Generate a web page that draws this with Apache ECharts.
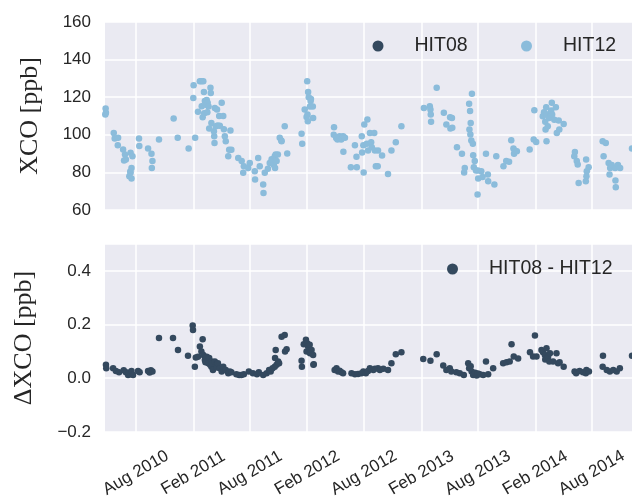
<!DOCTYPE html>
<html>
<head>
<meta charset="utf-8">
<script src="https://cdn.jsdelivr.net/npm/echarts@6/dist/echarts.min.js"></script>
<style>
  html, body { margin: 0; padding: 0; background: #fff; }
  #chart { width: 632px; height: 500px; }
</style>
</head>
<body>
<div id="chart"></div>
<script>
// XCO of HIT12 (HIT08 lies under it, differences are far below one pixel)
var hit12 = [
  ['2010-04-23',116],['2010-04-25',110.8],['2010-04-26',114],['2010-04-27',111.7],
  ['2010-05-22',101],['2010-05-25',98],['2010-06-04',94.5],['2010-06-05',98.4],['2010-06-21',92.2],
  ['2010-06-24',86.3],['2010-06-27',89.5],['2010-06-30',86.8],['2010-07-11',78],['2010-07-14',80.5],
  ['2010-07-15',90.4],['2010-07-15',79.8],['2010-07-18',82.4],['2010-07-18',76.7],['2010-07-21',88.6],
  ['2010-08-11',98],['2010-08-12',94],['2010-09-09',92.7],['2010-09-20',89.9],['2010-09-21',82.4],
  ['2010-09-23',86],['2010-10-14',97.5],['2010-11-30',108.7],['2010-12-13',98.4],
  ['2011-01-17',92.7],['2011-02-01',119.6],['2011-02-02',126.4],['2011-02-07',98.4],['2011-02-16',112.2],
  ['2011-02-22',128.5],['2011-02-27',128.5],['2011-02-28',115.2],['2011-03-03',109.4],['2011-03-05',128.5],
  ['2011-03-07',122.8],['2011-03-08',111.5],['2011-03-10',118],['2011-03-13',116],['2011-03-16',118.5],
  ['2011-03-18',112],['2011-03-19',117],['2011-03-22',115],['2011-03-24',103.3],['2011-03-28',125],
  ['2011-03-29',122.3],['2011-03-31',106.3],['2011-04-08',101.9],['2011-04-09',99.2],['2011-04-10',95.7],
  ['2011-04-11',114.3],['2011-04-14',104.5],['2011-04-18',113.4],['2011-04-20',105],['2011-04-25',110],
  ['2011-04-27',104.8],['2011-05-03',117],['2011-05-08',110],['2011-05-10',103],['2011-05-13',99.2],
  ['2011-05-16',96.6],['2011-05-24',88.6],['2011-05-27',92],['2011-05-31',102.3],['2011-06-03',92],
  ['2011-06-25',87.7],['2011-07-06',86],['2011-07-11',79.8],['2011-07-13',83.3],['2011-07-27',82.4],
  ['2011-08-01',85],['2011-08-17',80.6],['2011-08-18',76.2],['2011-08-28',87.7],['2011-09-02',83.3],
  ['2011-09-13',73.5],['2011-09-14',69],['2011-09-18',79.8],['2011-09-28',82],['2011-10-04',85],
  ['2011-10-10',87],['2011-10-17',84],['2011-10-20',88.6],['2011-10-21',82.4],['2011-10-23',89.5],
  ['2011-10-26',86],['2011-10-30',89.5],['2011-11-05',98.4],['2011-11-10',97],['2011-11-11',96.6],
  ['2011-11-21',104.6],['2011-11-29',90],
  ['2012-01-14',100.6],['2012-01-16',95.2],['2012-01-24',113.4],['2012-01-30',109.5],['2012-02-01',128.5],
  ['2012-02-02',110.8],['2012-02-03',107.2],['2012-02-04',122.8],['2012-02-06',120],['2012-02-10',115],
  ['2012-02-12',118],['2012-02-13',119],['2012-02-19',115],['2012-02-20',109],
  ['2012-04-26',100],['2012-04-27',104],['2012-05-04',98.3],['2012-05-08',97.5],['2012-05-15',99.2],
  ['2012-05-20',97.5],['2012-05-26',99.2],['2012-05-27',91],['2012-06-01',98.4],['2012-06-20',82.8],
  ['2012-07-03',94.5],['2012-07-08',88.3],['2012-07-09',82.8],['2012-07-25',99.2],['2012-07-26',90.6],
  ['2012-07-30',94.5],['2012-07-31',80],['2012-08-02',105.5],['2012-08-10',95.2],['2012-08-12',108.1],
  ['2012-08-14',91.6],['2012-08-20',101],['2012-08-24',96],['2012-08-26',93.4],['2012-09-03',101],
  ['2012-09-05',91.6],['2012-09-08',83.3],['2012-09-14',83.3],['2012-09-15',91.6],['2012-09-28',89],
  ['2012-10-17',79.2],['2012-10-28',91.6],['2012-11-11',96],['2012-11-29',104.6],
  ['2013-02-09',114.3],['2013-02-28',115.2],['2013-03-02',113.4],['2013-03-03',110.8],['2013-03-04',106.9],
  ['2013-03-22',125],['2013-04-14',111.7],['2013-04-22',105.5],['2013-05-04',109.4],['2013-05-05',103.3],
  ['2013-05-10',109],['2013-05-11',103.7],['2013-05-26',93.4],['2013-06-11',89.9],['2013-06-18',80],
  ['2013-06-20',82.4],['2013-07-04',116.5],['2013-07-05',102.8],['2013-07-07',112.6],['2013-07-08',100.1],
  ['2013-07-09',106.3],['2013-07-11',97],['2013-07-13',121.8],['2013-07-16',95.2],['2013-07-17',89.1],
  ['2013-07-19',82.8],['2013-07-22',86],['2013-07-26',81],['2013-07-31',68.2],['2013-08-01',81],
  ['2013-08-02',76.7],['2013-08-12',80.6],['2013-08-16',77.5],['2013-08-27',89.9],['2013-09-02',78.9],
  ['2013-09-03',75.3],['2013-09-23',73.5],['2013-09-29',88.6],['2013-10-22',83.3],['2013-10-31',86],
  ['2013-11-09',85.6],['2013-11-16',97.1],['2013-11-23',92.7],['2013-11-25',89.9],['2013-11-27',91.6],
  ['2013-12-04',91.3],
  ['2014-01-14',92.2],['2014-01-27',97.5],['2014-01-29',113.1],['2014-02-04',96.2],['2014-02-25',109.9],
  ['2014-03-01',112],['2014-03-05',106.9],['2014-03-06',102.8],['2014-03-08',114.7],['2014-03-09',96.6],
  ['2014-03-10',110.8],['2014-03-13',104.6],['2014-03-17',109],['2014-03-21',111.5],['2014-03-24',112.9],
  ['2014-03-26',117],['2014-03-27',110.8],['2014-04-03',108],['2014-04-08',114.7],['2014-04-11',101],
  ['2014-04-17',107.6],['2014-04-19',102.8],['2014-05-03',105.8],['2014-06-06',88.6],['2014-06-08',90.9],
  ['2014-06-14',86],['2014-06-17',84.2],['2014-06-20',74.4],['2014-07-13',75.3],['2014-07-14',86.8],
  ['2014-07-15',78],['2014-07-16',80.6],['2014-07-22',82.8],['2014-09-05',96.6],['2014-09-08',88.6],
  ['2014-09-15',95.7],['2014-09-24',85],['2014-09-27',78.9],['2014-09-29',82.4],['2014-10-04',84],
  ['2014-10-15',82.4],['2014-10-16',75.7],['2014-10-17',72.1],['2014-10-24',84],['2014-10-31',82.4],
  ['2014-12-08',92.7]
];

// HIT08 - HIT12
var diff = [
  ['2010-04-27',0.05],['2010-04-28',0.037],['2010-05-20',0.037],['2010-05-29',0.027],['2010-06-08',0.022],
  ['2010-06-23',0.03],['2010-06-30',0.022],['2010-07-07',0.012],['2010-07-09',0.02],['2010-07-15',0.015],
  ['2010-07-18',0.027],['2010-07-23',0.012],['2010-08-08',0.027],['2010-08-13',0.022],['2010-09-09',0.027],
  ['2010-09-14',0.021],['2010-09-18',0.03],['2010-09-23',0.025],['2010-10-14',0.15],['2010-11-28',0.15],
  ['2010-12-14',0.105],
  ['2011-01-15',0.084],['2011-01-30',0.196],['2011-01-31',0.18],['2011-02-06',0.043],['2011-02-09',0.077],
  ['2011-02-16',0.08],['2011-02-22',0.118],['2011-02-27',0.1],['2011-03-03',0.145],['2011-03-05',0.087],
  ['2011-03-10',0.068],['2011-03-12',0.06],['2011-03-16',0.08],['2011-03-21',0.056],['2011-03-24',0.075],
  ['2011-03-27',0.05],['2011-03-31',0.043],['2011-04-01',0.062],['2011-04-03',0.055],['2011-04-05',0.031],
  ['2011-04-11',0.062],['2011-04-16',0.05],['2011-04-18',0.04],['2011-04-21',0.056],['2011-04-27',0.037],
  ['2011-05-03',0.025],['2011-05-08',0.043],['2011-05-16',0.031],['2011-05-24',0.019],['2011-05-29',0.025],
  ['2011-06-03',0.022],['2011-06-19',0.015],['2011-06-28',0.012],['2011-07-05',0.012],['2011-07-13',0.015],
  ['2011-07-29',0.025],['2011-08-11',0.019],['2011-08-24',0.015],['2011-08-30',0.022],['2011-09-13',0.012],
  ['2011-09-24',0.019],['2011-10-02',0.031],['2011-10-07',0.025],['2011-10-13',0.037],['2011-10-20',0.043],
  ['2011-10-21',0.075],['2011-10-23',0.105],['2011-10-26',0.05],['2011-10-31',0.062],['2011-11-03',0.056],
  ['2011-11-11',0.155],['2011-11-21',0.161],['2011-11-22',0.1],['2011-11-27',0.108],
  ['2012-01-14',0.065],['2012-01-15',0.043],['2012-01-21',0.127],['2012-01-28',0.143],['2012-01-30',0.1],
  ['2012-02-01',0.13],['2012-02-04',0.118],['2012-02-09',0.125],['2012-02-10',0.093],['2012-02-15',0.105],
  ['2012-02-20',0.087],['2012-02-21',0.05],['2012-02-22',0.052],['2012-04-29',0.031],['2012-05-05',0.037],
  ['2012-05-10',0.025],['2012-05-15',0.028],['2012-05-21',0.022],['2012-05-26',0.019],['2012-06-22',0.019],
  ['2012-07-03',0.015],['2012-07-13',0.016],['2012-07-24',0.019],['2012-07-30',0.025],['2012-08-07',0.019],
  ['2012-08-14',0.027],['2012-08-20',0.037],['2012-08-31',0.031],['2012-09-05',0.035],['2012-09-15',0.037],
  ['2012-09-21',0.031],['2012-10-02',0.035],['2012-10-17',0.031],['2012-10-28',0.056],['2012-11-11',0.089],
  ['2012-11-29',0.097],
  ['2013-02-07',0.072],['2013-03-02',0.065],['2013-03-22',0.089],['2013-04-12',0.047],['2013-04-22',0.031],
  ['2013-05-03',0.037],['2013-05-08',0.025],['2013-05-24',0.022],['2013-06-04',0.019],['2013-06-17',0.012],
  ['2013-07-01',0.056],['2013-07-04',0.037],['2013-07-09',0.045],['2013-07-12',0.025],['2013-07-17',0.012],
  ['2013-07-23',0.02],['2013-07-28',0.01],['2013-08-01',0.018],['2013-08-07',0.015],['2013-08-18',0.012],
  ['2013-08-27',0.062],['2013-09-03',0.015],['2013-09-19',0.037],['2013-10-21',0.056],['2013-11-01',0.06],
  ['2013-11-11',0.062],['2013-11-17',0.127],['2013-11-24',0.081],['2013-12-08',0.074],
  ['2014-01-15',0.097],['2014-01-25',0.081],['2014-01-31',0.159],['2014-02-05',0.081],['2014-02-21',0.105],
  ['2014-02-26',0.097],['2014-03-04',0.087],['2014-03-05',0.07],['2014-03-09',0.112],['2014-03-11',0.074],
  ['2014-03-14',0.08],['2014-03-18',0.062],['2014-03-20',0.093],['2014-03-30',0.062],['2014-04-10',0.093],
  ['2014-04-15',0.056],['2014-04-20',0.06],['2014-05-03',0.043],['2014-06-07',0.025],['2014-06-12',0.019],
  ['2014-06-23',0.027],['2014-07-04',0.022],['2014-07-13',0.019],['2014-07-15',0.031],['2014-07-23',0.025],
  ['2014-09-05',0.043],['2014-09-06',0.084],['2014-09-18',0.031],['2014-09-28',0.025],['2014-10-09',0.031],
  ['2014-10-20',0.025],['2014-10-30',0.037],['2014-12-08',0.084]
];

var tickDates = ['2010-08-01','2011-02-01','2011-08-01','2012-02-01','2012-08-01',
                 '2013-02-01','2013-08-01','2014-02-01','2014-08-01'];
var tickLabels = ['Aug 2010','Feb 2011','Aug 2011','Feb 2012','Aug 2012',
                  'Feb 2013','Aug 2013','Feb 2014','Aug 2014'];
var xStart = '2010-04-24', xEnd = '2014-12-08';

var textCol = '#262626';
var sans = 'Liberation Sans';
var serif = 'Liberation Serif';
var dark = '#34495e', light = '#8bbcdb';

// dates -> epoch ms for a numeric date axis
function ms(d) { return +echarts.time.parse(d); }
function toMs(list) { return list.map(function (p) { return [ms(p[0]), p[1]]; }); }
var tickTimes = tickDates.map(ms);

function xAxis(idx, showLabels) {
  return {
    type: 'value', gridIndex: idx, min: ms(xStart), max: ms(xEnd),
    axisLine: { show: false },
    axisTick: { show: false, customValues: tickTimes },
    splitLine: { show: true, lineStyle: { color: '#fff', width: 1.5 } },
    axisLabel: {
      show: showLabels, customValues: tickTimes, rotate: 30, margin: 41,
      align: 'center', verticalAlign: 'middle',
      fontFamily: sans, fontSize: 17, color: textCol,
      formatter: function (v) {
        var i = tickTimes.indexOf(+v);
        return i >= 0 ? tickLabels[i] : '';
      }
    }
  };
}

function yAxis(idx, min, max, interval, name, gap, fmt) {
  return {
    type: 'value', gridIndex: idx, min: min, max: max, interval: interval,
    name: name, nameLocation: 'middle', nameGap: gap,
    nameTextStyle: { fontFamily: serif, fontSize: 26, color: textCol },
    axisLine: { show: false }, axisTick: { show: false },
    splitLine: { show: true, lineStyle: { color: '#fff', width: 1.5 } },
    axisLabel: { margin: 14, fontFamily: sans, fontSize: 17, color: textCol,
      showMaxLabel: max === 160, formatter: fmt }
  };
}

function legend(name, left, top) {
  return {
    data: [name], left: left, top: top, icon: 'circle', padding: 0,
    itemWidth: 11, itemHeight: 11,
    textStyle: { fontFamily: sans, fontSize: 19.5, color: textCol, padding: [0, 0, 0, 26] }
  };
}

var chart = echarts.init(document.getElementById('chart'), null, { renderer: 'canvas' });
chart.setOption({
  animation: false,
  backgroundColor: '#fff',
  grid: [
    { left: 105, top: 22, right: 0, height: 188, show: true, backgroundColor: '#eaeaf2', borderWidth: 0 },
    { left: 105, top: 244, right: 0, height: 189, show: true, backgroundColor: '#eaeaf2', borderWidth: 0 }
  ],
  legend: [
    legend('HIT08', 372.5, 36),
    legend('HIT12', 521, 36),
    legend('HIT08 - HIT12', 447, 259)
  ],
  xAxis: [xAxis(0, false), xAxis(1, true)],
  yAxis: [
    yAxis(0, 60, 160, 20, 'XCO [ppb]', 62, function (v) { return String(v); }),
    yAxis(1, -0.2, 0.5, 0.2, '\u0394XCO [ppb]', 68,
      function (v) { return v.toFixed(1).replace('-', '\u2212'); })
  ],
  series: [
    { name: 'HIT08', type: 'scatter', xAxisIndex: 0, yAxisIndex: 0, data: toMs(hit12),
      symbolSize: 5, itemStyle: { color: dark, opacity: 1 } },
    { name: 'HIT12', type: 'scatter', xAxisIndex: 0, yAxisIndex: 0, data: toMs(hit12),
      symbolSize: 6.5, itemStyle: { color: light, opacity: 1 } },
    { name: 'HIT08 - HIT12', type: 'scatter', xAxisIndex: 1, yAxisIndex: 1, data: toMs(diff),
      symbolSize: 6.5, itemStyle: { color: dark, opacity: 1 } }
  ]
});
</script>
</body>
</html>
